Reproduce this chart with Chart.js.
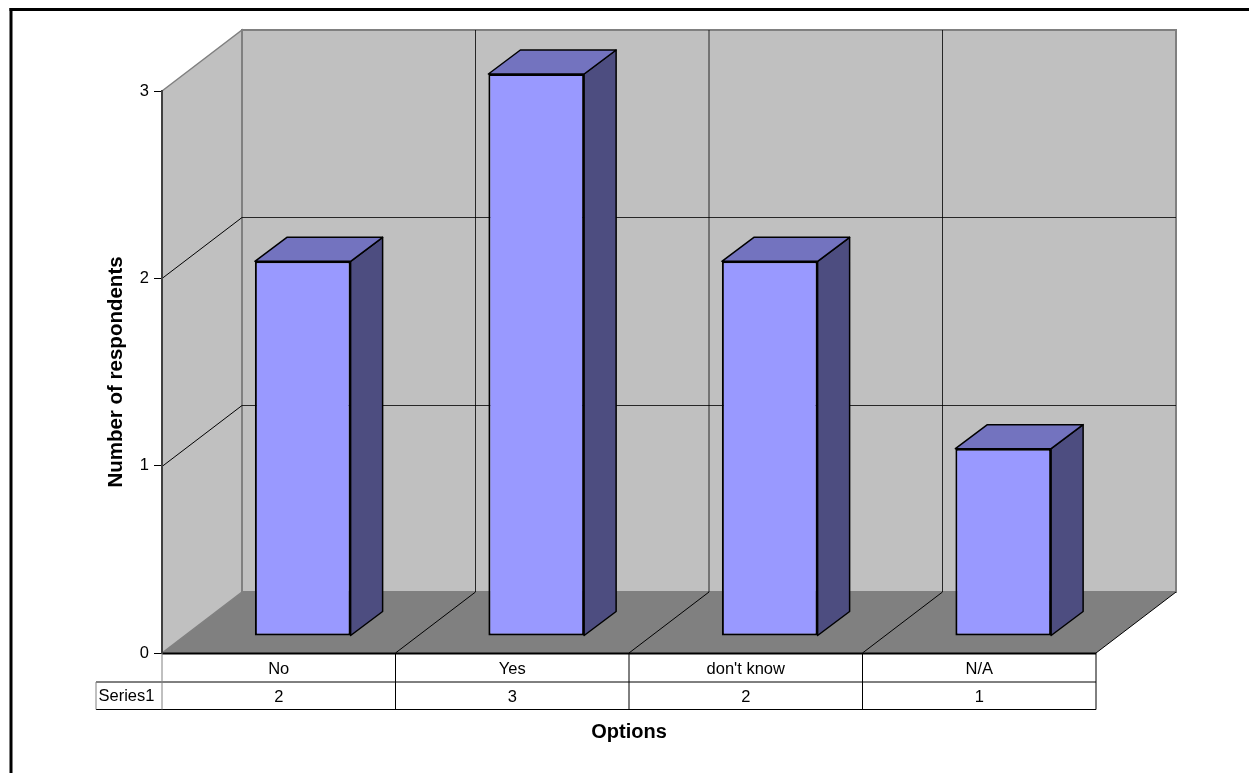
<!DOCTYPE html>
<html>
<head>
<meta charset="utf-8">
<title>Number of respondents by option</title>
<script src="https://cdn.jsdelivr.net/npm/chart.js@4"></script>
<style>
  html, body { margin: 0; padding: 0; background: #fff; }
  canvas { display: block; }
</style>
</head>
<body>
<canvas id="chart" width="1249" height="773"></canvas>
<script>
// ---- data ----
const categories = ['No', 'Yes', "don't know", 'N/A'];
const seriesName = 'Series1';
const seriesValues = [2, 3, 2, 1];
const valueTicks = [0, 1, 2, 3];

// ---- look ----
const FONT = '"Liberation Sans", Arial, sans-serif';
const FONT_SIZE = 16.5;
const TITLE_SIZE = 20;
const COLORS = {
  wall: '#c0c0c0',
  wallEdge: '#808080',
  floor: '#808080',
  front: '#9999ff',
  top: '#7373bf',
  side: '#4d4d80',
  line: '#000000'
};

// projection of the box: how far the back wall sits from the front edge
const DEPTH_X = 80;
const DEPTH_Y = -61;
// the bars stand a little way into the box and have their own depth
const BAR_SHIFT_X = 24;
const BAR_SHIFT_Y = -17;
const BAR_DEPTH_X = 32;
const BAR_DEPTH_Y = -24;

const poly = (ctx, pts, fill, stroke, lineWidth) => {
  ctx.beginPath();
  pts.forEach(([x, y], i) => (i ? ctx.lineTo(x, y) : ctx.moveTo(x, y)));
  ctx.closePath();
  if (fill) {
    ctx.fillStyle = fill;
    ctx.fill();
  }
  if (stroke) {
    ctx.strokeStyle = stroke;
    ctx.lineWidth = lineWidth;
    ctx.stroke();
  }
};

const line = (ctx, x1, y1, x2, y2, color, width) => {
  ctx.beginPath();
  ctx.moveTo(x1, y1);
  ctx.lineTo(x2, y2);
  ctx.strokeStyle = color;
  ctx.lineWidth = width;
  ctx.stroke();
};

// frame, walls, floor, gridlines and the data table sit behind the bars
const boxPlugin = {
  id: 'box',
  beforeDraw(chart) {
    const { ctx, scales: { x, y } } = chart;
    const left = x.left, right = x.right;
    const y0 = y.getPixelForValue(0);
    const yTop = y.getPixelForValue(valueTicks[valueTicks.length - 1]);
    const catWidth = (right - left) / categories.length;

    ctx.save();

    // outer frame, only top and left
    ctx.fillStyle = '#000';
    ctx.fillRect(9.5, 8, chart.width - 9.5, 3);
    ctx.fillRect(9.5, 8, 3, chart.height - 8);

    // side wall, back wall, floor
    poly(ctx, [[left, yTop], [left + DEPTH_X, yTop + DEPTH_Y], [left + DEPTH_X, y0 + DEPTH_Y], [left, y0]],
      COLORS.wall, COLORS.wallEdge, 1.5);
    poly(ctx, [[left + DEPTH_X, yTop + DEPTH_Y], [right + DEPTH_X, yTop + DEPTH_Y], [right + DEPTH_X, y0 + DEPTH_Y], [left + DEPTH_X, y0 + DEPTH_Y]],
      COLORS.wall, COLORS.wallEdge, 2);
    poly(ctx, [[left, y0], [left + DEPTH_X, y0 + DEPTH_Y], [right + DEPTH_X, y0 + DEPTH_Y], [right, y0]],
      COLORS.floor, null, 0);
    line(ctx, right, y0, right + DEPTH_X, y0 + DEPTH_Y, COLORS.line, 1);

    // horizontal gridlines run up the side wall and across the back wall
    valueTicks.slice(1, -1).forEach((v) => {
      const py = Math.round(y.getPixelForValue(v)) + 0.5;
      line(ctx, left, py, left + DEPTH_X, py + DEPTH_Y, COLORS.line, 1);
      line(ctx, left + DEPTH_X, py + DEPTH_Y, right + DEPTH_X, py + DEPTH_Y, COLORS.line, 0.8);
    });

    // vertical gridlines run down the back wall and forward over the floor
    for (let i = 1; i < categories.length; i++) {
      const px = left + catWidth * i;
      line(ctx, px + DEPTH_X, yTop + DEPTH_Y, px + DEPTH_X, y0 + DEPTH_Y, COLORS.line, 0.8);
      line(ctx, px + DEPTH_X, y0 + DEPTH_Y, px, y0, COLORS.line, 1);
    }

    // data table under the axis
    const row1 = y0 + 29;
    const row2 = y0 + 56.5;
    const keyLeft = left - 66;
    line(ctx, left, y0 + 0.5, right, y0 + 0.5, COLORS.line, 2);
    line(ctx, keyLeft, row1, right, row1, COLORS.line, 1);
    line(ctx, keyLeft, row2, right, row2, COLORS.line, 1.2);
    line(ctx, keyLeft, row1, keyLeft, row2, COLORS.wallEdge, 1);
    line(ctx, left, y0, left, row2, COLORS.wallEdge, 1);
    for (let i = 1; i <= categories.length; i++) {
      const px = left + catWidth * i;
      line(ctx, px, y0, px, row2, COLORS.line, 1);
    }
    ctx.fillStyle = '#000';
    ctx.font = `${FONT_SIZE}px ${FONT}`;
    ctx.textAlign = 'center';
    ctx.textBaseline = 'middle';
    ctx.fillText(seriesName, (keyLeft + left) / 2 - 2.5, (row1 + row2) / 2 + 1);

    ctx.restore();
  },
  // the library draws the front faces, pushed back into the box
  beforeDatasetsDraw(chart) {
    chart.ctx.save();
    chart.ctx.translate(BAR_SHIFT_X, BAR_SHIFT_Y);
  },
  afterDatasetsDraw(chart) {
    const ctx = chart.ctx;
    ctx.restore();
    ctx.save();
    ctx.lineJoin = 'round';
    chart.getDatasetMeta(0).data.forEach((bar) => {
      const l = bar.x - bar.width / 2 + BAR_SHIFT_X;
      const r = bar.x + bar.width / 2 + BAR_SHIFT_X;
      const t = bar.y + BAR_SHIFT_Y;
      const b = bar.base + BAR_SHIFT_Y;
      poly(ctx, [[r, t], [r + BAR_DEPTH_X, t + BAR_DEPTH_Y], [r + BAR_DEPTH_X, b + BAR_DEPTH_Y], [r, b]],
        COLORS.side, COLORS.line, 1.5);
      poly(ctx, [[l, t], [l + BAR_DEPTH_X, t + BAR_DEPTH_Y], [r + BAR_DEPTH_X, t + BAR_DEPTH_Y], [r, t]],
        COLORS.top, COLORS.line, 1.5);
    });
    ctx.restore();
  }
};

new Chart(document.getElementById('chart'), {
  type: 'bar',
  data: {
    labels: categories,
    datasets: [{
      label: seriesName,
      data: seriesValues,
      backgroundColor: COLORS.front,
      borderColor: COLORS.line,
      borderWidth: 2,
      borderSkipped: false,
      barPercentage: 0.41,
      categoryPercentage: 1,
      clip: false
    }]
  },
  options: {
    responsive: false,
    animation: false,
    layout: { padding: { left: 104, top: 91, right: 153, bottom: 29 } },
    plugins: { legend: { display: false }, tooltip: { enabled: false } },
    scales: {
      x: {
        afterFit(scale) { scale.height = 91; },
        grid: { display: false, drawTicks: false },
        border: { display: false },
        ticks: {
          autoSkip: false,
          maxRotation: 0,
          padding: 2,
          color: '#000',
          font: { family: FONT, size: FONT_SIZE, lineHeight: '28px' },
          // second line of each tick is the table's value row
          callback(value, index) {
            return [categories[index], String(seriesValues[index])];
          }
        },
        title: {
          display: true,
          text: 'Options',
          color: '#000',
          padding: 0,
          font: { family: FONT, size: TITLE_SIZE, weight: 'bold' }
        }
      },
      y: {
        min: 0,
        max: 3,
        afterFit(scale) { scale.width = 58; },
        grid: { drawOnChartArea: false, tickLength: 8, color: COLORS.line, tickWidth: 1 },
        border: { color: '#404040', width: 2 },
        ticks: {
          stepSize: 1,
          padding: 5,
          color: '#000',
          font: { family: FONT, size: FONT_SIZE }
        },
        title: {
          display: true,
          text: 'Number of respondents',
          color: '#000',
          padding: 0,
          font: { family: FONT, size: TITLE_SIZE + 0.5, weight: 'bold' }
        }
      }
    }
  },
  plugins: [boxPlugin]
});
</script>
</body>
</html>
